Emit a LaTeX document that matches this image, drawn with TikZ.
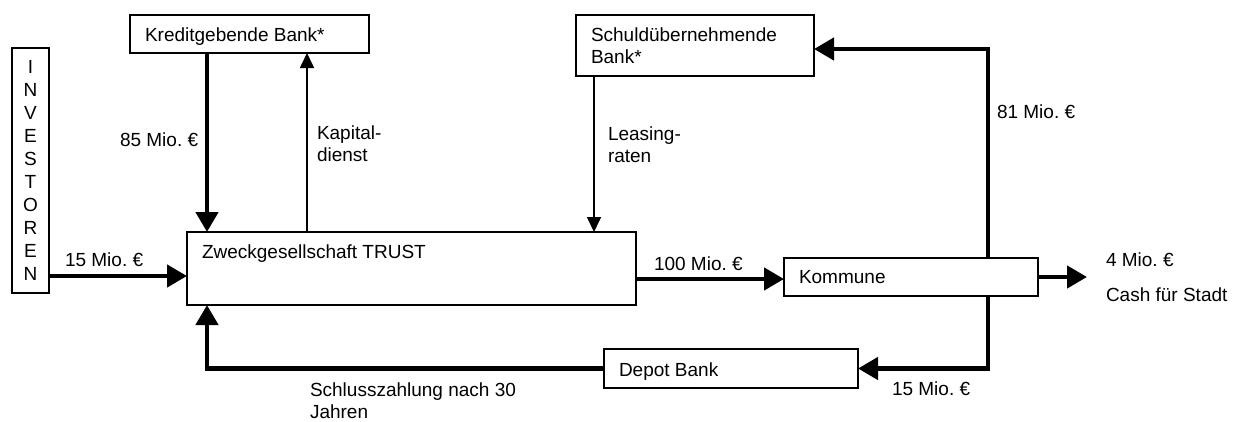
\documentclass[tikz,border=0pt]{standalone}
\usepackage{fontspec}
\setmainfont{Liberation Sans}
\usetikzlibrary{arrows.meta}
\frenchspacing
\begin{document}
\begin{tikzpicture}[x=1pt,y=-1pt,
  box/.style={draw, line width=1.2pt, inner sep=0pt, outer sep=0pt, anchor=north west},
  txt/.style={inner sep=0pt, outer sep=0pt, anchor=base west, font=\fontsize{19}{22}\selectfont\frenchspacing, align=left},
  bigflow/.style={line width=4.5pt, -{Triangle[width=22pt,length=20pt]}},
  smallflow/.style={line width=1.6pt, -{Triangle[width=14pt,length=15pt]}}]
\useasboundingbox (0,0) rectangle (1237,421);
% boxes
\node[draw, line width=1.2pt, inner sep=0pt, outer sep=0pt, minimum width=37pt, minimum height=245pt,
  align=center, font=\fontsize{19}{23.1}\selectfont] (inv) at (30.5,170.5) {I\\N\\V\\E\\S\\T\\O\\R\\E\\N};
\node[box, minimum width=239pt, minimum height=38pt] (kb) at (130,15) {};
\node[box, minimum width=238pt, minimum height=61pt] (sb) at (576,15) {};
\node[box, minimum width=449pt, minimum height=73pt] (trust) at (187,232) {};
\node[box, minimum width=254pt, minimum height=38pt] (kom) at (784,258) {};
\node[box, minimum width=254pt, minimum height=39pt] (depot) at (604,349) {};
% texts (multi-line nodes: base = last line)
\node[txt] (kbt) at (145,41.5) {Kreditgebende Bank*};
\node[txt] (sbt) at (591,63.3) {Schuldübernehmende\\Bank*};
\node[txt] (trt) at (202,258) {Zweckgesellschaft TRUST};
\node[txt] (kap) at (317,161.7) {Kapital-\\dienst};
\node[txt] (lea) at (608,162.7) {Leasing-\\raten};
\node[txt] (l85) at (120,146) {85 Mio. €};
\node[txt] (l15a) at (65,266.7) {15 Mio. €};
\node[txt] (l100) at (654,270) {100 Mio. €};
\node[txt] (komt) at (799,283.3) {Kommune};
\node[txt] (l81) at (997,118.3) {81 Mio. €};
\node[txt] (l4) at (1106,266.7) {4 Mio. €};
\node[txt] (cash) at (1106,301.7) {Cash für Stadt};
\node[txt] (dept) at (619,376) {Depot Bank};
\node[txt] (l15b) at (892,395) {15 Mio. €};
\node[txt] (schl) at (310,418.5) {Schlusszahlung nach 30\\Jahren};
\coordinate (cashpt) at (1087,277);
% connectors
\draw[bigflow] (inv.east |- 0,276) -- (trust.west |- 0,276);
\draw[bigflow] (kb.south -| 207,0) -- (trust.north -| 207,0);
\draw[smallflow] (trust.north -| 307,0) -- (kb.south -| 307,0);
\draw[smallflow] (sb.south -| 594,0) -- (trust.north -| 594,0);
\draw[bigflow] (trust.east |- 0,279) -- (kom.west |- 0,279);
\draw[bigflow] (kom.east |- cashpt) -- (cashpt);
\draw[bigflow] (kom.north -| 988,0) |- (sb.east |- 0,49);
\draw[bigflow] (kom.south -| 988,0) |- (depot.east);
\draw[bigflow] (depot.west) -| (trust.south -| 207,0);
\end{tikzpicture}
\end{document}
